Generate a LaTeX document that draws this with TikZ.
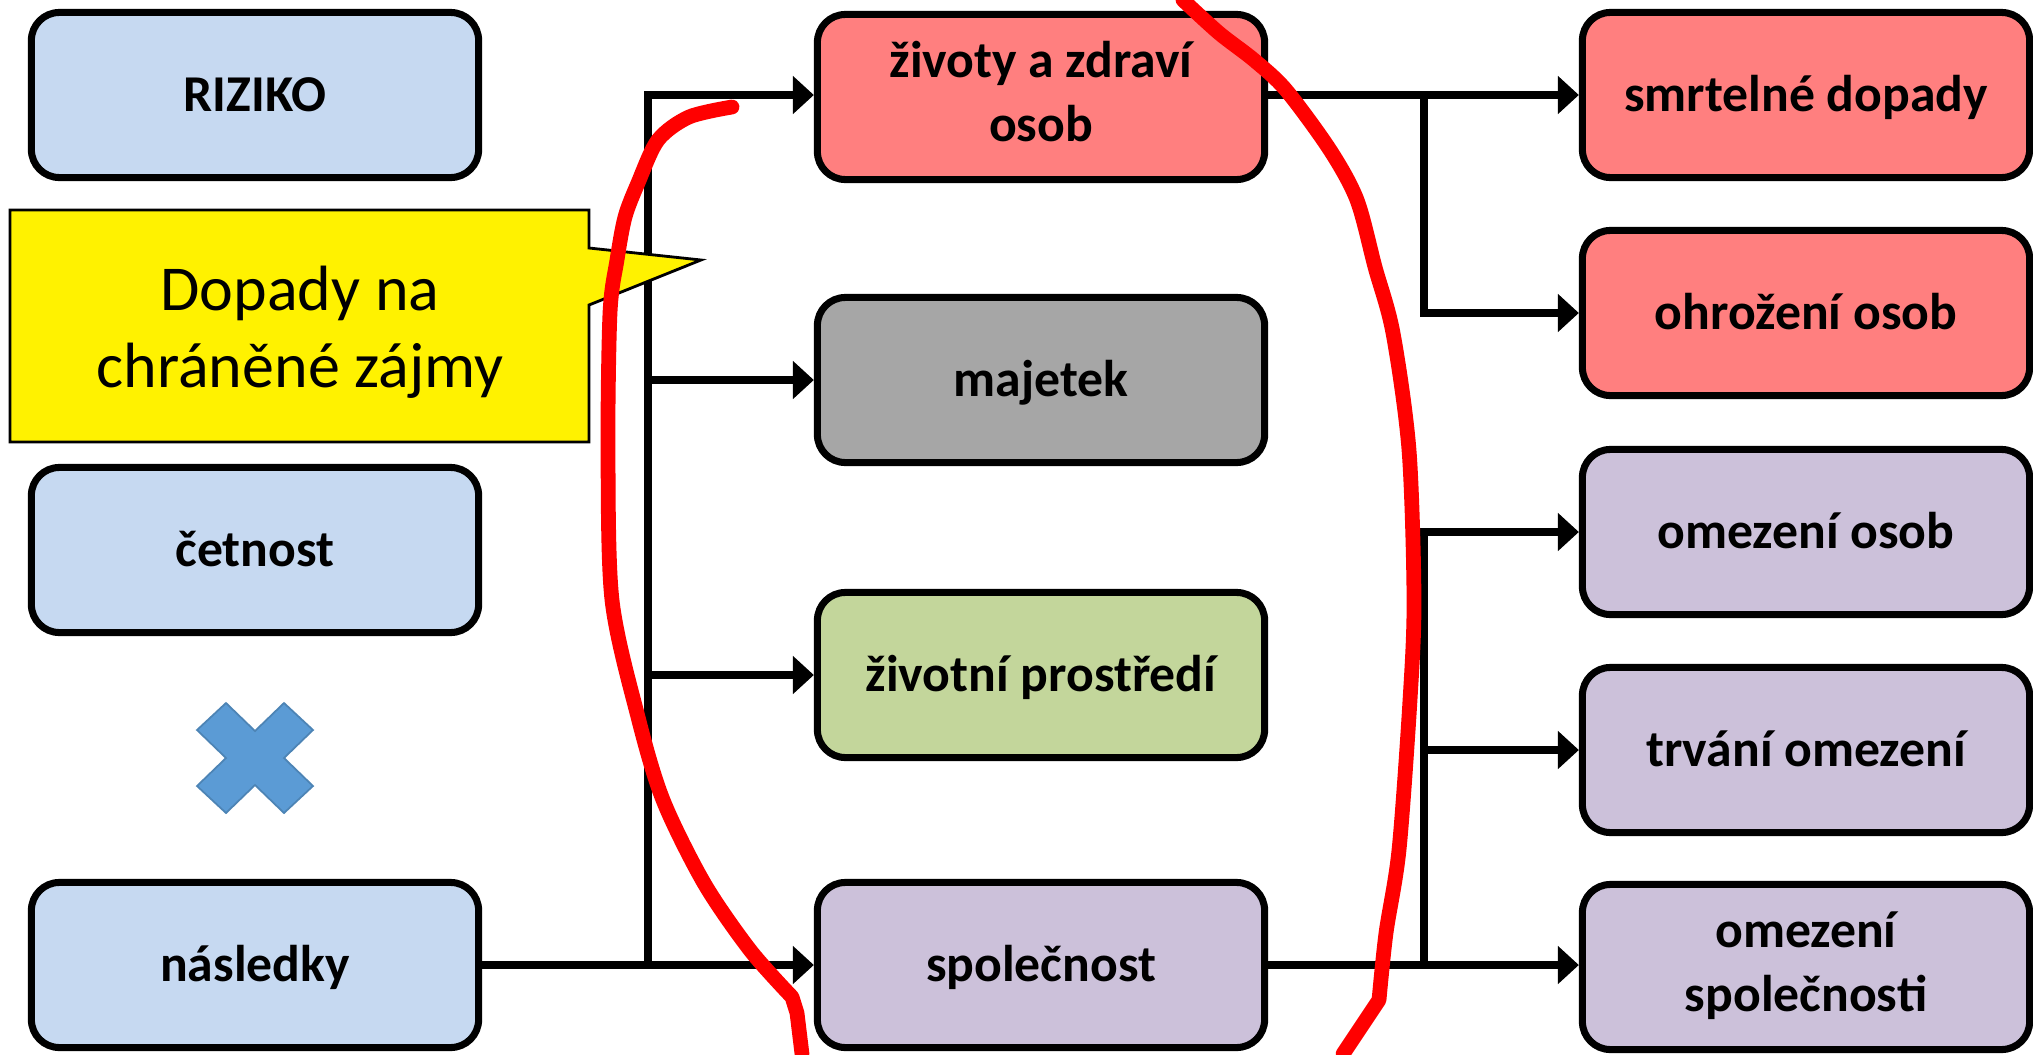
\documentclass[tikz,border=0pt]{standalone}
\usepackage{fontspec}
\setmainfont{Carlito}
\usetikzlibrary{arrows.meta}

\definecolor{boxBlue}{HTML}{C6D9F1}
\definecolor{boxRed}{HTML}{FF7F7F}
\definecolor{boxGray}{HTML}{A6A6A6}
\definecolor{boxGreen}{HTML}{C3D69B}
\definecolor{boxPurple}{HTML}{CCC1DA}
\definecolor{crossBlue}{HTML}{5B9BD5}
\definecolor{markRed}{HTML}{FF0000}
\newcommand\boxStrut{\rule[-5.3pt]{0pt}{19.9pt}}

\begin{document}
\begin{tikzpicture}[
    x=0.01cm, y=-0.01cm,
    arrowtip/.style={
      -{Triangle[length=0.21cm,width=0.37cm]}
    },
    wire/.style={line width=2.2pt},
    box/.style={draw=black, line width=2pt, rounded corners=0.28cm,
      minimum width=4.47cm, minimum height=1.65cm, align=center,
      font=\bfseries\fontsize{14.7}{18.2}\selectfont},
    marker/.style={draw=markRed, line width=4.2pt, line cap=round, line join=round}
  ]
    \useasboundingbox (0,0) rectangle (2033,1054);

    % left column
    \node[box, fill=boxBlue] (Riziko) at (255,95) {RIZIKO\boxStrut};
    \node[box, fill=boxBlue] (Cetnost) at (255,550) {četnost\boxStrut};
    \node[box, fill=boxBlue] (Nasledky) at (255,965) {následky\boxStrut};
    \filldraw[shift={(255,758)}, fill=crossBlue, draw=crossBlue!85!black, line width=0.5pt]
      (-29,-55) -- (0,-27) -- (29,-55) -- (58,-28) -- (29,0) -- (58,28)
      -- (29,55) -- (0,27) -- (-29,55) -- (-58,28) -- (-29,0) -- (-58,-28) -- cycle;

    % protected interests
    \node[box, fill=boxRed] (Zivoty) at (1041,97) {životy a zdraví\strut\\osob\strut};
    \node[box, fill=boxGray] (Majetek) at (1041,380) {majetek\boxStrut};
    \node[box, fill=boxGreen] (Prostredi) at (1041,675) {životní prostředí\boxStrut};
    \node[box, fill=boxPurple] (Spolecnost) at (1041,965) {společnost\boxStrut};

    % consequences
    \node[box, fill=boxRed] (Smrtelne) at (1806,95) {smrtelné dopady\boxStrut};
    \node[box, fill=boxRed] (Ohrozeni) at (1806,313) {ohrožení osob\boxStrut};
    \node[box, fill=boxPurple] (OmezOsob) at (1806,532) {omezení osob\boxStrut};
    \node[box, fill=boxPurple] (Trvani) at (1806,750) {trvání omezení\boxStrut};
    \node[box, fill=boxPurple] (OmezSpol) at (1806,967) {omezení\strut\\společnosti\strut};

    \coordinate (HubL) at (648,965);
    \coordinate (HubA) at (1424,95);
    \coordinate (HubB) at (1424,965);

    \draw[wire] (Nasledky) -- (HubL);
    \draw[wire, arrowtip] (HubL) |- (Zivoty.west |- HubA);
    \draw[wire, arrowtip] (HubL) |- (Majetek.west);
    \draw[wire, arrowtip] (HubL) |- (Prostredi.west);
    \draw[wire, arrowtip] (HubL) -- (Spolecnost.west);

    \draw[wire] (Zivoty.east |- HubA) -- (HubA);
    \draw[wire, arrowtip] (HubA) -- (Smrtelne.west);
    \draw[wire, arrowtip] (HubA) |- (Ohrozeni.west);

    \draw[wire] (Spolecnost) -- (HubB);
    \draw[wire, arrowtip] (HubB) |- (OmezOsob.west);
    \draw[wire, arrowtip] (HubB) |- (Trvani.west);
    \draw[wire, arrowtip] (HubB) -- (OmezSpol.west |- HubB);

    % speech bubble
    \filldraw[fill=yellow, draw=black, line width=0.8pt]
      (10,210) -- (589,210) -- (589,248) -- (701,260) -- (589,305)
      -- (589,442) -- (10,442) -- cycle;
    \node[align=center, font=\fontsize{18.2}{21.8}\selectfont] (Bubble) at (300,332)
      {Dopady na\\chráněné zájmy};

    % hand drawn loop
    \draw[marker] plot[smooth] coordinates {(732,107) (689,117) (658,140) (638,183)
      (625,217) (617,260) (610,313) (608,450) (612,600) (638,717) (663,800)
      (704,883) (750,950) (792,997)} -- (797,1013) -- (802,1054);
    \draw[marker] plot[smooth] coordinates {(1183,0) (1219,33) (1254,60) (1286,90)
      (1330,150) (1357,200) (1375,267) (1393,333) (1409,450) (1414,600)
      (1410,700) (1399,850) (1386,933) (1379,1000)} -- (1343,1054);
  \end{tikzpicture}
\end{document}
